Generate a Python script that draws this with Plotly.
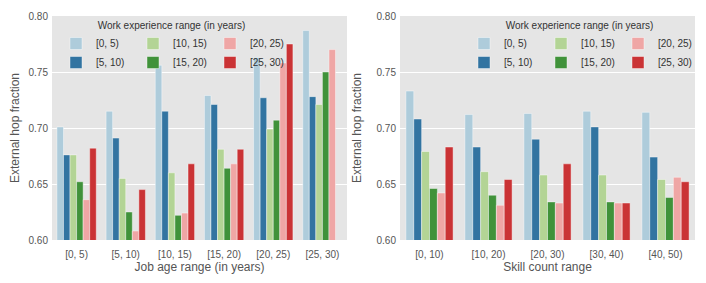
import colorsys
import plotly.graph_objects as go

job_age_ranges = ["[0, 5)", "[5, 10)", "[10, 15)", "[15, 20)", "[20, 25)", "[25, 30)"]
skill_ranges = ["[0, 10)", "[10, 20)", "[20, 30)", "[30, 40)", "[40, 50)"]
work_exp_labels = ["[0, 5)", "[5, 10)", "[10, 15)", "[15, 20)", "[20, 25)", "[25, 30)"]

# External hop fraction by job age (rows: work experience range)
job_age_values = [
    [0.701, 0.715, 0.756, 0.729, 0.763, 0.787],
    [0.676, 0.691, 0.715, 0.721, 0.727, 0.728],
    [0.676, 0.655, 0.660, 0.681, 0.699, 0.721],
    [0.652, 0.625, 0.622, 0.664, 0.707, 0.750],
    [0.636, 0.608, 0.624, 0.668, 0.758, 0.770],
    [0.682, 0.645, 0.668, 0.681, 0.775, None],
]

# External hop fraction by skill count (rows: work experience range)
skill_values = [
    [0.733, 0.712, 0.713, 0.715, 0.714],
    [0.708, 0.683, 0.690, 0.701, 0.674],
    [0.679, 0.661, 0.658, 0.658, 0.654],
    [0.646, 0.640, 0.634, 0.634, 0.638],
    [0.642, 0.631, 0.633, 0.633, 0.656],
    [0.683, 0.654, 0.668, 0.633, 0.652],
]

y_ticks = [0.60, 0.65, 0.70, 0.75, 0.80]

paired = ["#a6cee3", "#1f78b4", "#b2df8a", "#33a02c", "#fb9a99", "#e31a1c"]


def desat(hexc, prop=0.75):
    r, g, b = (int(hexc[i:i + 2], 16) / 255 for i in (1, 3, 5))
    h, l, s = colorsys.rgb_to_hls(r, g, b)
    r, g, b = colorsys.hls_to_rgb(h, l, s * prop)
    return "rgb(%d,%d,%d)" % (round(r * 255), round(g * 255), round(b * 255))


colors = [desat(c) for c in paired]
col_groups = ["a", "a", "b", "b", "c", "c"]

# page body has an 8px default margin; figure is sized to fill the rest
OFF = 8
FW, FH = 706 - OFF, 283 - OFF


def fx(xr):
    return (xr - OFF) / FW


def fy(yr):
    return 1 - (yr - OFF) / FH


fig = go.Figure()
for i, lab in enumerate(work_exp_labels):
    fig.add_trace(go.Bar(
        x=job_age_ranges, y=job_age_values[i], name=lab,
        marker=dict(color=colors[i], line=dict(color="rgba(255,255,255,0.7)", width=0.6)),
        xaxis="x", yaxis="y", legend="legend", legendgroup="L" + col_groups[i],
    ))
for i, lab in enumerate(work_exp_labels):
    fig.add_trace(go.Bar(
        x=skill_ranges, y=skill_values[i], name=lab,
        marker=dict(color=colors[i], line=dict(color="rgba(255,255,255,0.7)", width=0.6)),
        xaxis="x2", yaxis="y2", legend="legend2", legendgroup="R" + col_groups[i],
    ))

font_fam = "Liberation Sans, Arial, sans-serif"
gray = "#555555"

yaxis_common = dict(
    range=[0.6, 0.8], tickvals=y_ticks, tickformat=".2f",
    showgrid=True, gridcolor="white", gridwidth=1, zeroline=False,
    showline=False, ticks="", ticklabelstandoff=3,
    tickfont=dict(size=10, color=gray, family=font_fam),
    automargin=False,
)
xaxis_common = dict(
    showgrid=False, zeroline=False, showline=False, ticks="", ticklabelstandoff=7,
    tickfont=dict(size=10, color=gray, family=font_fam), automargin=False,
)

legend_common = dict(
    orientation="h", bgcolor="rgba(0,0,0,0)", borderwidth=0,
    font=dict(size=10, color="#333333", family=font_fam),
    title=dict(text="Work experience range (in years)", side="top center",
               font=dict(size=10, color="#333333", family=font_fam)),
    entrywidth=32, xanchor="left", yanchor="top", tracegroupgap=0,
)

fig.update_layout(
    width=FW, height=FH,
    margin=dict(l=0, r=0, t=0, b=0),
    paper_bgcolor="white",
    plot_bgcolor="#e5e5e5",
    font=dict(family=font_fam, color=gray),
    barmode="group", bargap=0.2, bargroupgap=0,
    showlegend=True,
    xaxis=dict(domain=[fx(52), fx(347)], anchor="y",
               title=dict(text="Job age range (in years)", font=dict(size=12, color=gray), standoff=2),
               **xaxis_common),
    yaxis=dict(domain=[fy(240), fy(16)], anchor="x",
               title=dict(text="External hop fraction", font=dict(size=12, color=gray), standoff=12),
               **yaxis_common),
    xaxis2=dict(domain=[fx(400), fx(695)], anchor="y2",
                title=dict(text="Skill count range", font=dict(size=12, color=gray), standoff=2),
                **xaxis_common),
    yaxis2=dict(domain=[fy(240), fy(16)], anchor="x2",
                title=dict(text="External hop fraction", font=dict(size=12, color=gray), standoff=12),
                **yaxis_common),
    legend=dict(x=fx(56), y=fy(16), **legend_common),
    legend2=dict(x=fx(464), y=fy(16), **legend_common),
)

fig.write_html("out.html", config={"displayModeBar": False})
